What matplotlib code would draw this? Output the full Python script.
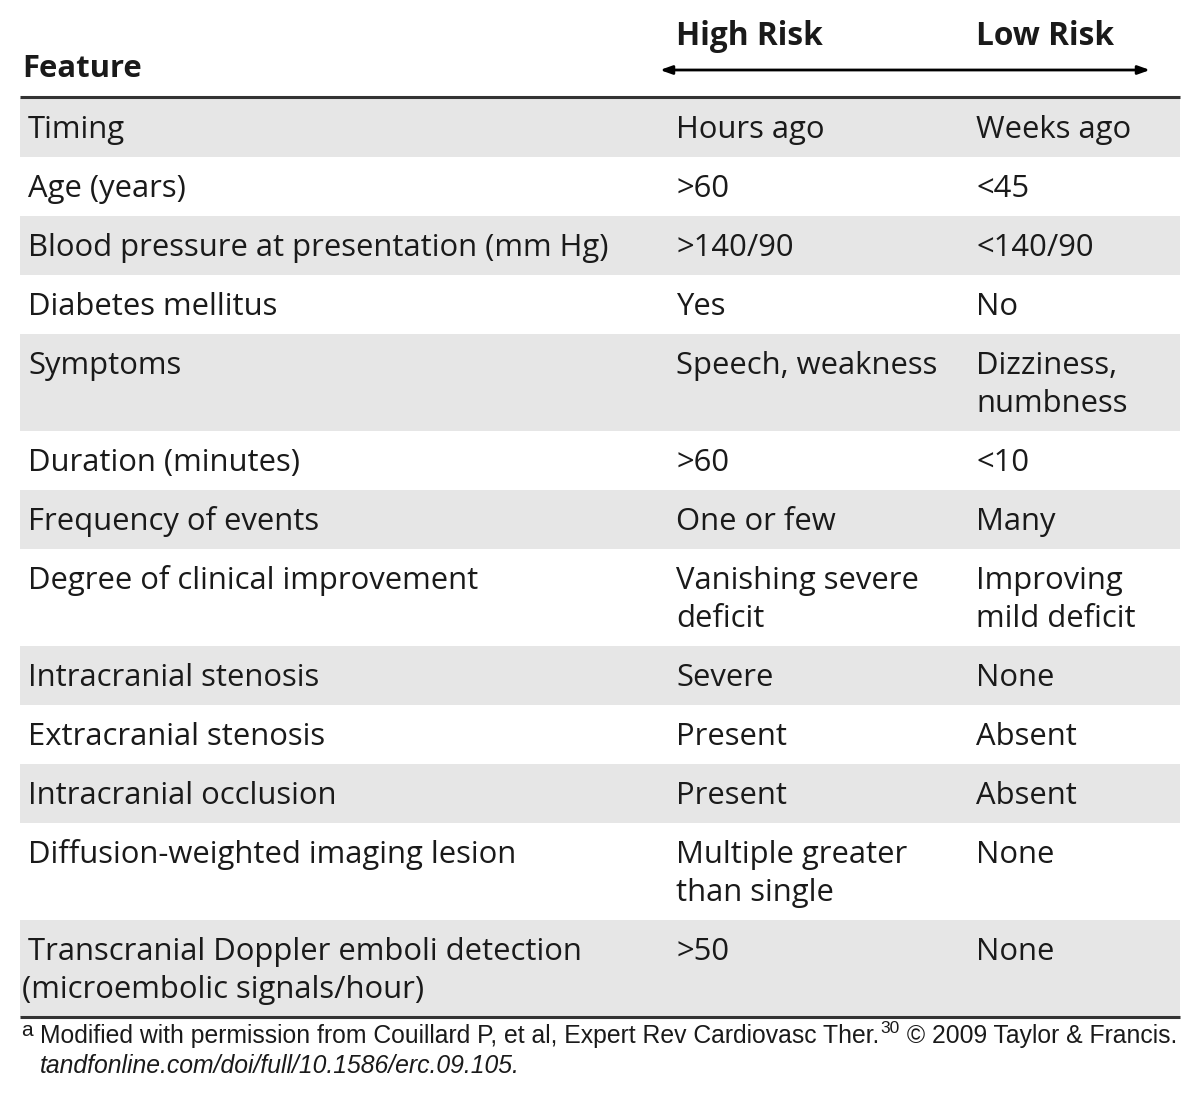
import matplotlib
matplotlib.use("Agg")
import matplotlib.pyplot as plt
from matplotlib import font_manager

# table content
col_headers = ["Feature", "High Risk", "Low Risk"]
features = [
    "Timing",
    "Age (years)",
    "Blood pressure at presentation (mm Hg)",
    "Diabetes mellitus",
    "Symptoms",
    "Duration (minutes)",
    "Frequency of events",
    "Degree of clinical improvement",
    "Intracranial stenosis",
    "Extracranial stenosis",
    "Intracranial occlusion",
    "Diffusion-weighted imaging lesion",
    "Transcranial Doppler emboli detection\n(microembolic signals/hour)",
]
high_risk = [
    "Hours ago", ">60", ">140/90", "Yes", "Speech, weakness", ">60",
    "One or few", "Vanishing severe\ndeficit", "Severe", "Present",
    "Present", "Multiple greater\nthan single", ">50",
]
low_risk = [
    "Weeks ago", "<45", "<140/90", "No", "Dizziness,\nnumbness", "<10",
    "Many", "Improving\nmild deficit", "None", "Absent", "Absent",
    "None", "None",
]
note_main = "Modified with permission from Couillard P, et al, Expert Rev Cardiovasc Ther."
note_ref = "30"
note_tail = " \u00a9 2009 Taylor & Francis."
note_link = "tandfonline.com/doi/full/10.1586/erc.09.105."

W, H = 1200, 1099
installed = {f.name for f in font_manager.fontManager.ttflist}
body_font = "Open Sans" if "Open Sans" in installed else "DejaVu Sans"
narrow_font = "Liberation Sans Narrow" if "Liberation Sans Narrow" in installed else "Liberation Sans"

fig = plt.figure(figsize=(W / 100, H / 100), dpi=100)
ax = fig.add_axes([0, 0, 1, 1])
ax.set_xlim(0, W)
ax.set_ylim(H, 0)
ax.axis("off")

left, right = 20, 1180
col_x = [28, 676, 976]
fs = 22.3
shade = "#e6e6e6"
ink = "#1a1a1a"
line_h = 38

# header
ax.text(22, 77, col_headers[0], fontsize=fs, fontweight="bold", family=body_font,
        va="baseline", ha="left", color=ink)
for x, lab in zip(col_x[1:], col_headers[1:]):
    ax.text(x, 45, lab, fontsize=fs + 0.5, fontweight="bold", family=body_font,
            va="baseline", ha="left", color=ink)
ax.annotate("", xy=(1150, 70), xytext=(660, 70),
            arrowprops=dict(arrowstyle="<|-|>,head_length=0.7,head_width=0.25",
                            lw=2, color="black", shrinkA=0, shrinkB=0))

top = 97
ax.plot([left, right], [top, top], color="#333333", lw=2.2, solid_capstyle="butt")

y = top + 1
for i, row in enumerate(zip(features, high_risk, low_risk)):
    nlines = max(c.count("\n") + 1 for c in row)
    rh = 21 + line_h * nlines
    if i % 2 == 0:
        ax.fill_between([left, right], y, y + rh, color=shade, lw=0)
    for j, (x, cell) in enumerate(zip(col_x, row)):
        for k, part in enumerate(cell.split("\n")):
            xx = x - 6 if (j == 0 and part.startswith("(")) else x
            ax.text(xx, y + 40 + k * line_h, part, fontsize=fs, family=body_font,
                    va="baseline", ha="left", color=ink)
    y += rh

ax.plot([left, right], [y, y], color="#333333", lw=2.2, solid_capstyle="butt")

# footnote
nfs = 17.8
ax.text(21, y + 4, "a", fontsize=15, family=narrow_font, va="top", ha="left", color=ink)
t1 = ax.text(40, y + 26, note_main, fontsize=nfs, family=narrow_font,
             va="baseline", ha="left", color=ink)
fig.canvas.draw()
r = fig.canvas.get_renderer()
bb = t1.get_window_extent(r).transformed(ax.transData.inverted())
x_end = max(bb.x0, bb.x1)
t2 = ax.text(x_end + 1, y + 16, note_ref, fontsize=12.5, family=narrow_font,
             va="baseline", ha="left", color=ink)
bb2 = t2.get_window_extent(r).transformed(ax.transData.inverted())
ax.text(max(bb2.x0, bb2.x1), y + 26, note_tail, fontsize=nfs, family=narrow_font,
        va="baseline", ha="left", color=ink)
ax.text(40, y + 56, note_link, fontsize=nfs, family=narrow_font, style="italic",
        va="baseline", ha="left", color=ink)

fig.savefig("out.png", dpi=100, facecolor="white")
